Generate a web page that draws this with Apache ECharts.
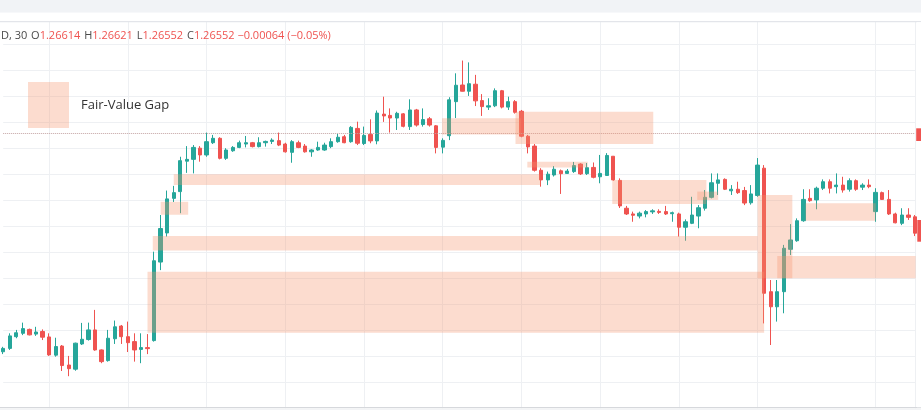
<!DOCTYPE html>
<html>
<head>
<meta charset="utf-8">
<script src="https://cdn.jsdelivr.net/npm/echarts@6/dist/echarts.min.js"></script>
<style>
  html, body { margin: 0; padding: 0; background: #fff; }
  #chart { width: 921px; height: 410px; }
</style>
</head>
<body>
<div id="chart"></div>
<script>
// 30-minute bars (prices)
var opens = [
  1.26119, 1.26132, 1.26177, 1.26190, 1.26205, 1.26187, 1.26197, 1.26176, 1.26106, 1.26141,
  1.26068, 1.26052, 1.26149, 1.26166, 1.26203, 1.26126, 1.26085, 1.26169, 1.26218, 1.26177,
  1.26158, 1.26128, 1.26135, 1.26162, 1.26464, 1.26576, 1.26709, 1.26735, 1.26852, 1.26859,
  1.26902, 1.26876, 1.26923, 1.26940, 1.26863, 1.26892, 1.26905, 1.26918, 1.26923, 1.26908,
  1.26923, 1.26928, 1.26931, 1.26918, 1.26886, 1.26923, 1.26910, 1.26888, 1.26895, 1.26895,
  1.26908, 1.26927, 1.26946, 1.26927, 1.26978, 1.26920, 1.26955, 1.26930, 1.27033, 1.27028,
  1.27018, 1.27034, 1.26985, 1.27049, 1.26993, 1.27015, 1.26988, 1.26906, 1.26950, 1.27081,
  1.27145, 1.27121, 1.27148, 1.27085, 1.27060, 1.27065, 1.27123, 1.27060, 1.27081, 1.27044,
  1.26948, 1.26910, 1.26817, 1.26780, 1.26799, 1.26815, 1.26805, 1.26812, 1.26841, 1.26804,
  1.26828, 1.26792, 1.26797, 1.26871, 1.26778, 1.26671, 1.26649, 1.26641, 1.26649, 1.26657,
  1.26659, 1.26658, 1.26650, 1.26649, 1.26598, 1.26613, 1.26641, 1.26671, 1.26713, 1.26767,
  1.26782, 1.26738, 1.26744, 1.26739, 1.26692, 1.26720, 1.26825, 1.26350, 1.26292, 1.26350,
  1.26513, 1.26546, 1.26623, 1.26709, 1.26703, 1.26748, 1.26773, 1.26754, 1.26760, 1.26744,
  1.26777, 1.26752, 1.26760, 1.26658, 1.26731, 1.26705, 1.26649, 1.26613, 1.26645, 1.26638
];
var closes = [
  1.26132, 1.26180, 1.26192, 1.26208, 1.26184, 1.26195, 1.26175, 1.26107, 1.26139, 1.26066,
  1.26054, 1.26152, 1.26167, 1.26203, 1.26126, 1.26081, 1.26171, 1.26215, 1.26177, 1.26154,
  1.26126, 1.26135, 1.26131, 1.26469, 1.26593, 1.26707, 1.26731, 1.26854, 1.26859, 1.26905,
  1.26876, 1.26927, 1.26940, 1.26863, 1.26895, 1.26905, 1.26923, 1.26923, 1.26908, 1.26923,
  1.26928, 1.26933, 1.26914, 1.26888, 1.26927, 1.26905, 1.26888, 1.26895, 1.26905, 1.26914,
  1.26927, 1.26944, 1.26923, 1.26982, 1.26921, 1.26951, 1.26930, 1.27037, 1.27026, 1.27018,
  1.27036, 1.26986, 1.27049, 1.26991, 1.27012, 1.26991, 1.26905, 1.26932, 1.27088, 1.27144,
  1.27121, 1.27150, 1.27084, 1.27062, 1.27065, 1.27123, 1.27060, 1.27081, 1.27040, 1.26948,
  1.26907, 1.26817, 1.26780, 1.26802, 1.26821, 1.26804, 1.26814, 1.26835, 1.26803, 1.26827,
  1.26790, 1.26805, 1.26874, 1.26780, 1.26680, 1.26649, 1.26644, 1.26652, 1.26658, 1.26661,
  1.26655, 1.26649, 1.26654, 1.26598, 1.26619, 1.26645, 1.26673, 1.26713, 1.26769, 1.26780,
  1.26744, 1.26744, 1.26731, 1.26691, 1.26726, 1.26837, 1.26344, 1.26292, 1.26350, 1.26517,
  1.26549, 1.26623, 1.26705, 1.26700, 1.26748, 1.26773, 1.26748, 1.26760, 1.26741, 1.26777,
  1.26744, 1.26760, 1.26754, 1.26732, 1.26705, 1.26649, 1.26615, 1.26645, 1.26636, 1.26575
];
var lows = [
  1.26110, 1.26126, 1.26171, 1.26183, 1.26182, 1.26180, 1.26164, 1.26103, 1.26100, 1.26045,
  1.26025, 1.26046, 1.26145, 1.26162, 1.26123, 1.26075, 1.26081, 1.26149, 1.26149, 1.26118,
  1.26081, 1.26075, 1.26110, 1.26158, 1.26433, 1.26562, 1.26695, 1.26652, 1.26807, 1.26805,
  1.26850, 1.26869, 1.26918, 1.26859, 1.26857, 1.26888, 1.26902, 1.26905, 1.26905, 1.26905,
  1.26908, 1.26918, 1.26910, 1.26885, 1.26846, 1.26902, 1.26885, 1.26869, 1.26892, 1.26892,
  1.26902, 1.26923, 1.26921, 1.26923, 1.26914, 1.26914, 1.26921, 1.26917, 1.27003, 1.26962,
  1.26972, 1.26982, 1.26972, 1.26985, 1.26985, 1.26985, 1.26882, 1.26882, 1.26933, 1.27018,
  1.27120, 1.27103, 1.27064, 1.27026, 1.27049, 1.27060, 1.27055, 1.27049, 1.27035, 1.26944,
  1.26882, 1.26812, 1.26754, 1.26760, 1.26793, 1.26726, 1.26803, 1.26807, 1.26799, 1.26799,
  1.26786, 1.26767, 1.26795, 1.26777, 1.26672, 1.26645, 1.26619, 1.26632, 1.26636, 1.26649,
  1.26649, 1.26645, 1.26619, 1.26562, 1.26546, 1.26610, 1.26594, 1.26662, 1.26709, 1.26722,
  1.26741, 1.26722, 1.26726, 1.26683, 1.26685, 1.26715, 1.26228, 1.26145, 1.26235, 1.26267,
  1.26491, 1.26542, 1.26619, 1.26696, 1.26667, 1.26741, 1.26728, 1.26728, 1.26731, 1.26735,
  1.26738, 1.26741, 1.26748, 1.26619, 1.26703, 1.26645, 1.26613, 1.26606, 1.26626, 1.26564
];
var highs = [
  1.26138, 1.26190, 1.26203, 1.26231, 1.26208, 1.26215, 1.26205, 1.26190, 1.26173, 1.26145,
  1.26103, 1.26154, 1.26230, 1.26231, 1.26280, 1.26128, 1.26203, 1.26239, 1.26222, 1.26235,
  1.26190, 1.26190, 1.26187, 1.26504, 1.26645, 1.26739, 1.26757, 1.26869, 1.26910, 1.26914,
  1.26910, 1.26962, 1.26953, 1.26944, 1.26902, 1.26910, 1.26931, 1.26949, 1.26926, 1.26944,
  1.26931, 1.26940, 1.26962, 1.26923, 1.26933, 1.26931, 1.26918, 1.26898, 1.26927, 1.26923,
  1.26940, 1.26957, 1.26953, 1.26987, 1.27004, 1.26985, 1.27013, 1.27047, 1.27100, 1.27055,
  1.27042, 1.27037, 1.27090, 1.27053, 1.27055, 1.27022, 1.26991, 1.26940, 1.27098, 1.27190,
  1.27239, 1.27232, 1.27184, 1.27110, 1.27094, 1.27132, 1.27126, 1.27100, 1.27087, 1.27049,
  1.26953, 1.26918, 1.26825, 1.26812, 1.26833, 1.26820, 1.26822, 1.26849, 1.26844, 1.26845,
  1.26847, 1.26876, 1.26883, 1.26872, 1.26786, 1.26680, 1.26658, 1.26658, 1.26664, 1.26667,
  1.26667, 1.26680, 1.26658, 1.26654, 1.26628, 1.26715, 1.26683, 1.26741, 1.26805, 1.26805,
  1.26786, 1.26760, 1.26773, 1.26753, 1.26760, 1.26864, 1.26837, 1.26395, 1.26395, 1.26530,
  1.26610, 1.26632, 1.26744, 1.26744, 1.26754, 1.26782, 1.26782, 1.26805, 1.26792, 1.26786,
  1.26782, 1.26767, 1.26782, 1.26748, 1.26735, 1.26741, 1.26654, 1.26671, 1.26671, 1.26645
];

// fair-value gap zones: bar position where each starts / ends, and price range
var fvgFrom   = [22, 22.8, 24, 26, 66.9, 78.1, 79.9, 92.85, 105.8, 115, 118, 122.3];
var fvgTo     = [116, 115, 28.2, 81.9, 78.9, 99.1, 89.1, 107.2, 109, 120.3, 139.1, 133];
var fvgTop    = [1.26427, 1.26564, 1.26696, 1.26802, 1.27017, 1.27042, 1.26850, 1.26780, 1.26735, 1.26722, 1.26487, 1.26690];
var fvgBottom = [1.26192, 1.26508, 1.26646, 1.26760, 1.26955, 1.26918, 1.26828, 1.26687, 1.26703, 1.26402, 1.26402, 1.26623];

// bars that carry a vertical grid line
var timeGridBars = [7, 19, 31, 43, 55, 67, 79, 91, 103, 115, 133, 139];
var priceLine = 1.26958;

var UP = '#26a69a';
var DOWN = '#ef5350';
var GAP = 'rgba(247, 150, 110, 0.33)';
var FONT = '"Open Sans", "Noto Sans", sans-serif';

var categories = opens.map(function (_, i) {
  var m = i * 30;
  var d = Math.floor(m / 1440);
  var hh = Math.floor((m % 1440) / 60);
  var mm = m % 60;
  return 'D' + d + ' ' + (hh < 10 ? '0' : '') + hh + ':' + (mm ? '30' : '00');
});

var candles = opens.map(function (o, i) {
  return [o, closes[i], lows[i], highs[i]];
});
var gaps = fvgFrom.map(function (f, i) {
  return [f, fvgTo[i], fvgTop[i], fvgBottom[i]];
});

var chart = echarts.init(document.getElementById('chart'), null, { renderer: 'canvas' });

chart.setOption({
  animation: false,
  backgroundColor: '#fff',
  title: {
    left: 0,
    top: 30,
    padding: 0,
    text: '{k|D, 30} {k|O}{v|1.26614} {k|H}{v|1.26621} {k|L}{v|1.26552} {k|C}{v|1.26552} {v|\u22120.00064 (\u22120.05%)}',
    textStyle: {
      fontSize: 11,
      fontWeight: 'normal',
      fontFamily: FONT,
      rich: {
        k: { color: '#4a4a4a', fontSize: 11, fontWeight: 'normal', fontFamily: FONT, padding: [0, 0, 0, 1] },
        v: { color: '#ef5350', fontSize: 11, fontWeight: 'normal', fontFamily: FONT }
      }
    }
  },
  legend: {
    data: ['Fair-Value Gap'],
    left: 28,
    top: 82,
    padding: 0,
    icon: 'rect',
    itemWidth: 41,
    itemHeight: 46,
    selectedMode: false,
    textStyle: { fontSize: 13, color: '#333', fontFamily: FONT, padding: [3, 0, 0, 7] }
  },
  grid: { left: 3.2, right: 6, top: 18.7, bottom: 1.3 },
  xAxis: [{
    type: 'category',
    data: categories,
    boundaryGap: false,
    axisLine: { show: false },
    axisTick: { show: false },
    axisLabel: { show: false },
    splitLine: {
      show: true,
      interval: function (index) { return timeGridBars.indexOf(index) !== -1; },
      lineStyle: { color: '#eef0f3', width: 1 }
    }
  }, {
    type: 'value',
    min: 0,
    max: opens.length - 1,
    show: false
  }],
  yAxis: {
    type: 'value',
    position: 'right',
    min: 1.259,
    max: 1.274,
    interval: 0.001,
    axisLine: { show: false },
    axisTick: { show: false },
    axisLabel: { show: false },
    splitLine: { show: true, showMinLine: false, showMaxLine: false, lineStyle: { color: '#eef0f3', width: 1 } }
  },
  series: [{
    type: 'candlestick',
    name: 'GBPUSD',
    data: candles,
    barWidth: 3.8,
    clip: false,
    z: 2,
    itemStyle: {
      color: UP,
      color0: DOWN,
      borderColor: UP,
      borderColor0: DOWN,
      borderWidth: 1
    },
    markLine: {
      silent: true,
      precision: 5,
      symbol: ['none', 'none'],
      label: { show: false },
      lineStyle: { type: 'dotted', color: '#c4a4a4', width: 1 },
      data: [{ yAxis: priceLine }]
    }
  }, {
    type: 'custom',
    name: 'Fair-Value Gap',
    xAxisIndex: 1,
    z: 5,
    itemStyle: { color: GAP },
    encode: { x: [0, 1], y: [2, 3] },
    data: gaps,
    renderItem: function (params, api) {
      var p0 = api.coord([api.value(0), api.value(2)]);
      var p1 = api.coord([api.value(1), api.value(3)]);
      return {
        type: 'rect',
        shape: { x: p0[0], y: p0[1], width: p1[0] - p0[0], height: p1[1] - p0[1] },
        style: { fill: api.visual('color') }
      };
    }
  }],
  graphic: [
    { type: 'rect', z: 10, shape: { x: 0, y: 0, width: 921, height: 12.7 }, style: { fill: '#f1f3f6' } },
    { type: 'rect', z: 10, shape: { x: 0, y: 12.7, width: 921, height: 8.5 }, style: { fill: '#fff' } },
    { type: 'line', z: 10, shape: { x1: 0, y1: 21.6, x2: 921, y2: 21.6 }, style: { stroke: '#e3e5ea', lineWidth: 1.2 } },
    { type: 'line', z: 10, shape: { x1: 0, y1: 407.6, x2: 921, y2: 407.6 }, style: { stroke: '#d6d8dc', lineWidth: 1.2 } },
    { type: 'rect', z: 10, shape: { x: 0, y: 408.2, width: 921, height: 2 }, style: { fill: '#f3f4f6' } },
    { type: 'rect', z: 10, shape: { x: 917, y: 22.2, width: 4, height: 385 }, style: { fill: '#fff' } },
    { type: 'rect', z: 11, shape: { x: 916.2, y: 128.3, width: 5, height: 12.7 }, style: { fill: DOWN } },
    { type: 'rect', z: 11, shape: { x: 917.3, y: 220, width: 4, height: 21.7 }, style: { fill: DOWN } }
  ]
});
</script>
</body>
</html>
